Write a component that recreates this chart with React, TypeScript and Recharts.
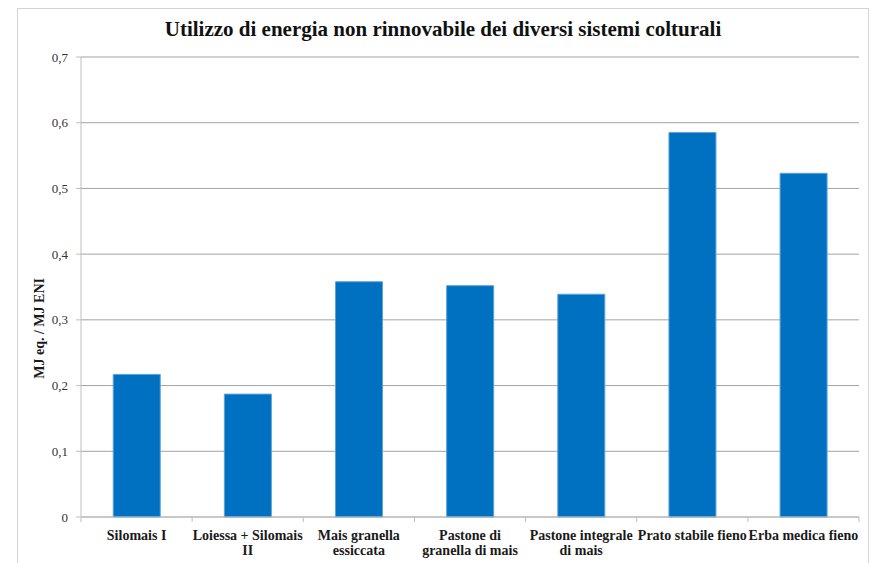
import React from 'react';
import { BarChart, Bar, XAxis, YAxis, CartesianGrid, Label } from 'recharts';

// Sistemi colturali (testo su più righe separato da "\n")
const categories: string[] = [
  'Silomais I',
  'Loiessa + Silomais\nII',
  'Mais granella\nessiccata',
  'Pastone di\ngranella di mais',
  'Pastone integrale\ndi mais',
  'Prato stabile fieno',
  'Erba medica fieno',
];

// MJ eq. / MJ ENI
const values: number[] = [0.217, 0.187, 0.358, 0.352, 0.339, 0.585, 0.523];

const yTicks: number[] = [0, 0.1, 0.2, 0.3, 0.4, 0.5, 0.6, 0.7];

const title = 'Utilizzo di energia non rinnovabile dei diversi sistemi colturali';
const yTitle = 'MJ eq. / MJ ENI';

const data = categories.map((name, i) => ({ name, value: values[i] }));

const SERIF = '"Liberation Serif", "Times New Roman", serif';
const AXIS_GREY = '#bfbfbf';

const formatTick = (v: number) => (v === 0 ? '0' : v.toFixed(1).replace('.', ','));

const CategoryTick = (props: any) => {
  const { x, y, payload, index, visibleTicksCount } = props;
  const half = payload.offset ?? 0;
  const lines = String(payload.value).split('\n');
  const isLast = index === visibleTicksCount - 1;
  return (
    <g>
      <line x1={x - half} x2={x - half} y1={y - 8} y2={y - 3} stroke={AXIS_GREY} />
      {isLast && <line x1={x + half} x2={x + half} y1={y - 8} y2={y - 3} stroke={AXIS_GREY} />}
      <text
        x={x}
        y={y}
        textAnchor="middle"
        fontFamily={SERIF}
        fontWeight="bold"
        fontSize={14}
        fill="#1a1a1a"
      >
        {lines.map((l, i) => (
          <tspan key={i} x={x} dy={i === 0 ? 15 : 15}>
            {l}
          </tspan>
        ))}
      </text>
    </g>
  );
};

const YTitle = (props: any) => {
  const { viewBox } = props;
  const cx = 40;
  const cy = viewBox.y + viewBox.height * 0.59;
  return (
    <text
      x={cx}
      y={cy}
      transform={`rotate(-90, ${cx}, ${cy})`}
      textAnchor="middle"
      dominantBaseline="central"
      fontFamily={SERIF}
      fontWeight="bold"
      fontSize={14}
      fill="#1a1a1a"
    >
      {yTitle}
    </text>
  );
};

export default function App() {
  return (
    <div style={{ position: 'absolute', left: 0, top: 0, width: 872, height: 563, background: '#ffffff', overflow: 'hidden' }}>
      <div
        style={{
          position: 'absolute',
          left: 17,
          top: 8,
          width: 852,
          height: 570,
          border: '1px solid #d4d4d4',
          boxSizing: 'border-box',
        }}
      />
      <div
        style={{
          position: 'absolute',
          left: 17,
          width: 852,
          top: 17,
          textAlign: 'center',
          fontFamily: SERIF,
          fontWeight: 'bold',
          fontSize: 21,
          color: '#111',
        }}
      >
        {title}
      </div>
      <div style={{ position: 'absolute', left: 0, top: 0 }}>
        <BarChart
          width={872}
          height={563}
          data={data}
          margin={{ top: 57, right: 13, bottom: 0, left: 21 }}
          barCategoryGap="29%"
        >
          <CartesianGrid vertical={false} stroke="#a3a3a3" />
          <XAxis
            dataKey="name"
            interval={0}
            tickLine={false}
            axisLine={{ stroke: AXIS_GREY }}
            tick={<CategoryTick />}
            height={46}
          />
          <YAxis
            domain={[0, 0.7]}
            ticks={yTicks}
            tickFormatter={formatTick}
            width={60}
            tickSize={5}
            tickMargin={8}
            tickLine={{ stroke: AXIS_GREY }}
            axisLine={{ stroke: AXIS_GREY }}
            tick={{ fontFamily: SERIF, fontSize: 13, fill: '#333' }}
          >
            <Label content={<YTitle />} />
          </YAxis>
          <Bar dataKey="value" fill="#0070C0" stroke="#5da0dc" strokeWidth={1} isAnimationActive={false} />
        </BarChart>
      </div>
    </div>
  );
}
